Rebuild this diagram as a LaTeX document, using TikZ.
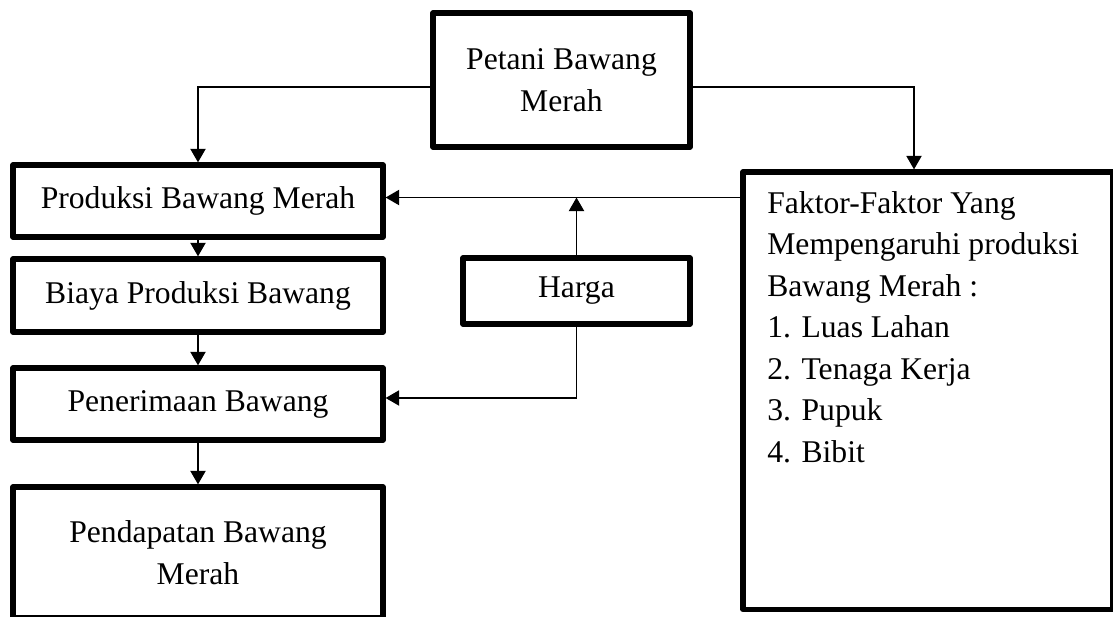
\documentclass[tikz,border=0pt]{standalone}
\usepackage{fontspec}
\setmainfont{Liberation Serif}
\usetikzlibrary{arrows.meta}
\begin{document}
\begin{tikzpicture}[x=0.02cm, y=-0.02cm, >={Triangle[length=0.27cm,width=0.3cm]},
    every node/.style={font=\fontsize{18}{23.6}\selectfont},
    kotak/.style={draw, line width=3pt, line join=round, align=center, inner sep=0pt,
        minimum width=7.4cm, minimum height=1.44cm},
    panah/.style={->, line width=1.1pt}]
    % Batas gambar
    \useasboundingbox (0,0) rectangle (1113,616);

    % Kotak kiri
    \node[kotak, minimum width=5.14cm, minimum height=2.68cm] (petani) at (561.5,80) {Petani Bawang\\Merah};
    \node[kotak] (produksi) at (198,201) {Produksi Bawang Merah};
    \node[kotak, minimum height=1.46cm] (biaya) at (198,295.5) {Biaya Produksi Bawang};
    \node[kotak] (penerimaan) at (198,404) {Penerimaan Bawang};
    \node[kotak, minimum height=2.62cm] (pendapatan) at (198,552.5) {Pendapatan Bawang\\Merah};

    % Harga dan faktor
    \node[kotak, minimum width=4.54cm, minimum height=1.32cm] (harga) at (576.5,291) {Harga};
    \node[kotak, minimum height=8.75cm] (faktor) at (928,390.75) {};
    \node[anchor=north west, inner sep=0pt, align=left] (daftar) at (767,191)
        {Faktor-Faktor Yang\\Mempengaruhi produksi\\Bawang Merah :\\1. Luas Lahan\\2. Tenaga Kerja\\3. Pupuk\\4. Bibit};

    % Panah dari petani
    \draw[panah] ([yshift=-0.14cm]petani.west) -| (produksi.north);
    \draw[panah] ([yshift=-0.14cm]petani.east) -| ([xshift=-0.28cm]faktor.north);

    % Panah kolom kiri
    \draw[panah] (produksi.south) -- (biaya.north);
    \draw[panah] (biaya.south) -- (penerimaan.north);
    \draw[panah] (penerimaan.south) -- (pendapatan.north);

    % Panah faktor dan harga
    \draw[panah] ([yshift=0.07cm]faktor.west |- produksi.east) -- ([yshift=0.07cm]produksi.east);
    \draw[panah] (harga.north) -- ([yshift=0.07cm]harga.north |- produksi.east);
    \draw[panah] (harga.south) |- ([yshift=0.12cm]penerimaan.east);
\end{tikzpicture}
\end{document}
